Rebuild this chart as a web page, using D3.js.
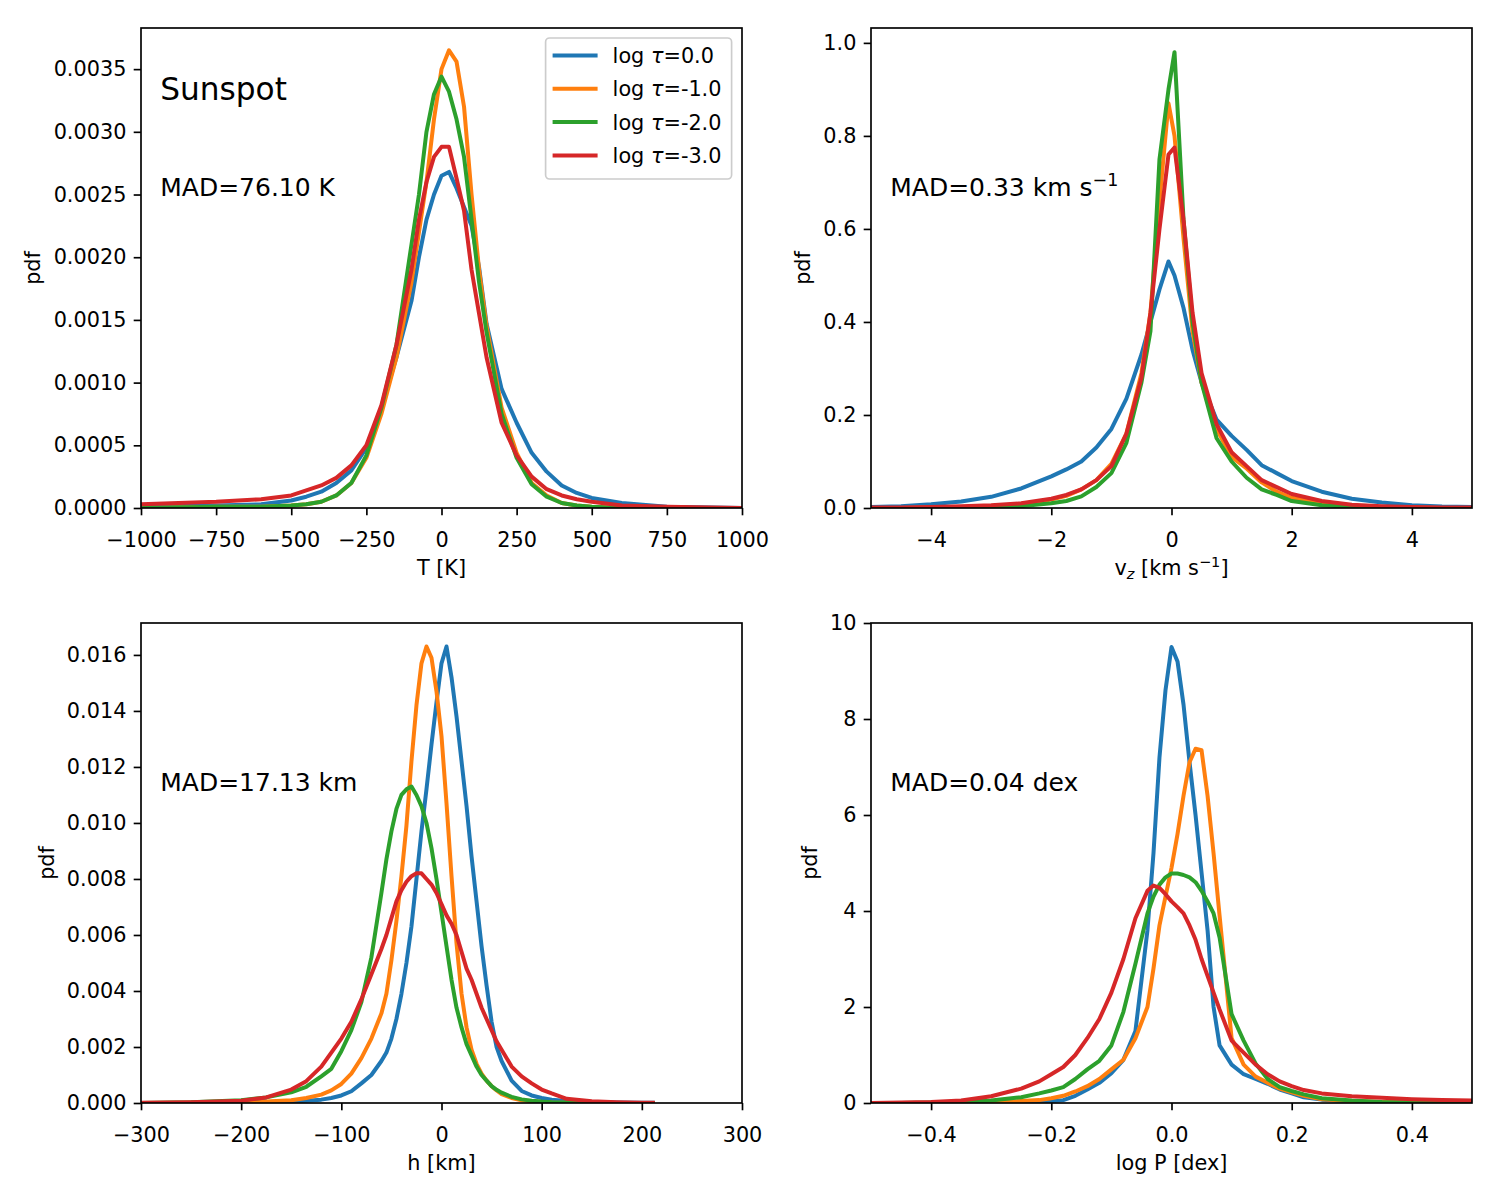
<!DOCTYPE html>
<html>
<head>
	<title>Sunspot pdf</title>
	<meta charset="utf-8"/>
	<script src="https://cdn.jsdelivr.net/npm/d3@7"></script>
	<style type="text/css">
		body { margin: 0; background: #fff; }
		svg { font-family: "DejaVu Sans", sans-serif; }
	</style>
</head>
<body>
	<svg id="fig" width="1500" height="1200"></svg>
	<script type="text/javascript">

	// series names (log tau levels)
	var tauLabels = ["0.0", "-1.0", "-2.0", "-3.0"];

	// temperature panel
	var tempBins = [-1000, -750, -600, -500, -450, -400, -350, -300, -250, -200, -150, -100, -75, -50, -25, 0, 25, 50, 75, 100, 125, 150, 200, 250, 300, 350, 400, 450, 500, 600, 750, 1000];
	var tempPdf0 = [0.00001, 0.00002, 0.00003, 0.00006, 0.00009, 0.00013, 0.0002, 0.0003, 0.00048, 0.0008, 0.0012, 0.00165, 0.002, 0.0023, 0.0025, 0.00265, 0.00268, 0.00255, 0.0024, 0.00225, 0.00192, 0.00147, 0.00095, 0.00068, 0.00044, 0.00029, 0.00018, 0.00012, 0.00008, 0.00004, 0.00001, 0];
	var tempPdf1 = [0, 0.00001, 0.00001, 0.00002, 0.00003, 0.00005, 0.0001, 0.0002, 0.0004, 0.00075, 0.0012, 0.0018, 0.0022, 0.0026, 0.0031, 0.0035, 0.00365, 0.00356, 0.0032, 0.0025, 0.0019, 0.00145, 0.0008, 0.00044, 0.0002, 0.0001, 0.00004, 0.00002, 0.00001, 0, 0, 0];
	var tempPdf2 = [0, 0.00001, 0.00001, 0.00002, 0.00003, 0.00005, 0.0001, 0.0002, 0.00042, 0.0008, 0.0013, 0.0021, 0.0025, 0.003, 0.0033, 0.00344, 0.00332, 0.0031, 0.0028, 0.0023, 0.0018, 0.0014, 0.00075, 0.0004, 0.00019, 0.00009, 0.00004, 0.00002, 0.00001, 0, 0, 0];
	var tempPdf3 = [0.00003, 0.00005, 0.00007, 0.0001, 0.00014, 0.00018, 0.00024, 0.00034, 0.0005, 0.00082, 0.0013, 0.0019, 0.0023, 0.0026, 0.0028, 0.00288, 0.00288, 0.00263, 0.00237, 0.0019, 0.00155, 0.0012, 0.00068, 0.00042, 0.00025, 0.00015, 0.0001, 0.00007, 0.00005, 0.00002, 0.00001, 0];
	var tempXTicks = [-1000, -750, -500, -250, 0, 250, 500, 750, 1000];
	var tempYTicks = [0, 0.0005, 0.001, 0.0015, 0.002, 0.0025, 0.003, 0.0035];

	// vertical velocity panel
	var vzBins = [-5, -4.5, -4, -3.5, -3, -2.5, -2, -1.75, -1.5, -1.25, -1, -0.75, -0.5, -0.35, -0.2, -0.05, 0.05, 0.2, 0.35, 0.5, 0.75, 1, 1.25, 1.5, 1.75, 2, 2.5, 3, 3.5, 4, 4.5, 5];
	var vzPdf0 = [0.002, 0.004, 0.008, 0.014, 0.024, 0.042, 0.068, 0.083, 0.1, 0.13, 0.17, 0.235, 0.33, 0.4, 0.47, 0.53, 0.5, 0.43, 0.34, 0.27, 0.19, 0.155, 0.125, 0.092, 0.075, 0.058, 0.035, 0.02, 0.012, 0.006, 0.003, 0.002];
	var vzPdf1 = [0, 0, 0.001, 0.002, 0.004, 0.008, 0.018, 0.026, 0.04, 0.06, 0.095, 0.16, 0.29, 0.42, 0.66, 0.87, 0.8, 0.58, 0.38, 0.27, 0.17, 0.11, 0.085, 0.055, 0.035, 0.022, 0.01, 0.004, 0.002, 0.001, 0, 0];
	var vzPdf2 = [0, 0, 0, 0.001, 0.002, 0.004, 0.01, 0.015, 0.025, 0.045, 0.075, 0.14, 0.27, 0.38, 0.75, 0.9, 0.98, 0.62, 0.4, 0.27, 0.15, 0.1, 0.065, 0.04, 0.028, 0.015, 0.006, 0.002, 0.001, 0, 0, 0];
	var vzPdf3 = [0.001, 0.001, 0.002, 0.004, 0.006, 0.01, 0.02, 0.028, 0.04, 0.06, 0.09, 0.16, 0.28, 0.42, 0.6, 0.76, 0.775, 0.62, 0.42, 0.29, 0.18, 0.12, 0.09, 0.06, 0.045, 0.03, 0.015, 0.007, 0.004, 0.002, 0.001, 0.001];
	var vzXTicks = [-4, -2, 0, 2, 4];
	var vzYTicks = [0, 0.2, 0.4, 0.6, 0.8, 1.0];

	// geometrical height panel
	var hBins = [-300, -250, -200, -175, -150, -135, -120, -110, -100, -90, -80, -70, -60, -55, -50, -45, -40, -35, -30, -25, -20, -15, -10, -5, 0, 5, 10, 15, 20, 25, 30, 35, 40, 45, 50, 55, 60, 70, 80, 90, 100, 110, 125, 150, 175, 200, 213];
	var hPdf0 = [0, 0, 0.00002, 0.00003, 0.00005, 0.00008, 0.00012, 0.00018, 0.00027, 0.00042, 0.0007, 0.001, 0.0015, 0.0018, 0.0023, 0.003, 0.0039, 0.005, 0.0063, 0.008, 0.0097, 0.0112, 0.0128, 0.0143, 0.0157, 0.0163, 0.0152, 0.0138, 0.0122, 0.0106, 0.0088, 0.0072, 0.0056, 0.0042, 0.0029, 0.002, 0.0015, 0.0008, 0.00043, 0.00027, 0.00018, 0.00012, 0.00007, 0.00004, 0.00002, 0.00001, 0.00001];
	var hPdf1 = [0, 0.00001, 0.00003, 0.00005, 0.0001, 0.00018, 0.0003, 0.00045, 0.00068, 0.00105, 0.0016, 0.0023, 0.0032, 0.0039, 0.0051, 0.0065, 0.0081, 0.0099, 0.0122, 0.0142, 0.0157, 0.0163, 0.0159, 0.0147, 0.0131, 0.0107, 0.0081, 0.0057, 0.0039, 0.0027, 0.0019, 0.0014, 0.00105, 0.0008, 0.0006, 0.00045, 0.00032, 0.00018, 0.0001, 0.00006, 0.00004, 0.00002, 0.00001, 0, 0, 0, 0];
	var hPdf2 = [0, 0.00003, 0.0001, 0.0002, 0.00038, 0.00058, 0.00095, 0.00122, 0.00185, 0.0026, 0.0036, 0.0052, 0.0075, 0.0087, 0.0097, 0.0105, 0.011, 0.0112, 0.0113, 0.011, 0.0106, 0.01, 0.0091, 0.008, 0.0068, 0.0056, 0.0044, 0.0034, 0.0027, 0.0021, 0.0017, 0.0013, 0.001, 0.0008, 0.0006, 0.00047, 0.00037, 0.00022, 0.00013, 0.00008, 0.00005, 0.00003, 0.00002, 0.00001, 0, 0, 0];
	var hPdf3 = [0.00001, 0.00003, 0.00008, 0.0002, 0.00048, 0.00078, 0.0013, 0.0018, 0.0023, 0.0029, 0.0037, 0.0046, 0.0055, 0.006, 0.0066, 0.0072, 0.0076, 0.0079, 0.0081, 0.0082, 0.0082, 0.008, 0.0078, 0.0075, 0.0071, 0.0067, 0.0064, 0.006, 0.0054, 0.0048, 0.0044, 0.0039, 0.0034, 0.003, 0.0026, 0.0022, 0.0019, 0.0013, 0.00095, 0.0007, 0.00048, 0.00034, 0.00015, 0.00006, 0.00003, 0.00001, 0.00001];
	var hXTicks = [-300, -200, -100, 0, 100, 200, 300];
	var hYTicks = [0, 0.002, 0.004, 0.006, 0.008, 0.01, 0.012, 0.014, 0.016];

	// gas pressure panel
	var pBins = [-0.5, -0.45, -0.4, -0.35, -0.3, -0.25, -0.22, -0.2, -0.18, -0.16, -0.14, -0.12, -0.1, -0.08, -0.06, -0.04, -0.03, -0.02, -0.01, 0, 0.01, 0.02, 0.03, 0.04, 0.05, 0.06, 0.07, 0.08, 0.1, 0.12, 0.14, 0.16, 0.18, 0.2, 0.22, 0.25, 0.3, 0.35, 0.4, 0.45, 0.5];
	var pPdf0 = [0, 0, 0, 0.01, 0.01, 0.02, 0.03, 0.04, 0.06, 0.15, 0.28, 0.42, 0.62, 0.9, 1.5, 3.6, 5.2, 7.2, 8.6, 9.5, 9.2, 8.3, 7.1, 6.0, 4.8, 3.6, 2.0, 1.2, 0.8, 0.6, 0.5, 0.4, 0.28, 0.2, 0.12, 0.07, 0.03, 0.01, 0.005, 0, 0];
	var pPdf1 = [0, 0, 0, 0.01, 0.02, 0.04, 0.06, 0.1, 0.15, 0.24, 0.35, 0.5, 0.7, 0.9, 1.35, 2.0, 2.8, 3.7, 4.3, 4.9, 5.6, 6.4, 7.1, 7.38, 7.35, 6.4, 5.2, 3.9, 1.35, 0.8, 0.55, 0.42, 0.3, 0.22, 0.15, 0.08, 0.04, 0.02, 0.01, 0, 0];
	var pPdf2 = [0, 0, 0.01, 0.02, 0.05, 0.12, 0.2, 0.26, 0.33, 0.5, 0.7, 0.88, 1.2, 1.9, 2.9, 3.95, 4.3, 4.55, 4.7, 4.78, 4.78, 4.75, 4.7, 4.6, 4.42, 4.2, 3.95, 3.45, 1.85, 1.3, 0.82, 0.5, 0.33, 0.25, 0.18, 0.1, 0.05, 0.02, 0.01, 0, 0];
	var pPdf3 = [0, 0.01, 0.02, 0.05, 0.14, 0.3, 0.45, 0.6, 0.75, 1.0, 1.35, 1.75, 2.3, 3.0, 3.85, 4.42, 4.53, 4.48, 4.35, 4.2, 4.08, 3.95, 3.7, 3.4, 3.0, 2.65, 2.3, 1.95, 1.3, 1.05, 0.8, 0.6, 0.45, 0.35, 0.27, 0.2, 0.14, 0.11, 0.08, 0.06, 0.05];
	var pXTicks = [-0.4, -0.2, 0, 0.2, 0.4];
	var pYTicks = [0, 2, 4, 6, 8, 10];

	var colors = ["#1f77b4", "#ff7f0e", "#2ca02c", "#d62728"];
	var W = 601, H = 480;
	var fs = 20.8;
	var svg = d3.select("#fig");

	function richText(sel, parts, size) {
		parts.forEach(function(p) {
			var t = sel.append("tspan").text(p.t);
			if (p.sub) {
				t.attr("font-size", size * 0.7).attr("font-style", "italic").attr("dy", size * 0.2);
			} else if (p.sup) {
				t.attr("font-size", size * 0.7).attr("dy", -size * 0.4);
			}
			if (p.back) t.attr("dy", p.back * size);
		});
	}

	function drawPanel(cfg, idx) {
		var g = svg.append("g").attr("transform", "translate(" + cfg.left + "," + cfg.top + ")");

		var x = d3.scaleLinear().domain(cfg.xDomain).range([0, W]);
		var y = d3.scaleLinear().domain(cfg.yDomain).range([H, 0]);

		g.append("clipPath").attr("id", "clip" + idx)
			.append("rect").attr("width", W).attr("height", H);

		var line = d3.line()
			.x(function(d) { return x(d[0]); })
			.y(function(d) { return y(d[1]); });

		cfg.series.forEach(function(s, i) {
			var pts = cfg.bins.map(function(b, j) { return [b, s[j]]; });
			g.append("path")
				.datum(pts)
				.attr("clip-path", "url(#clip" + idx + ")")
				.attr("d", line)
				.style("fill", "none")
				.style("stroke", colors[i])
				.style("stroke-width", 4)
				.style("stroke-linejoin", "round");
		});

		var xa = g.append("g").attr("transform", "translate(0," + H + ")")
			.call(d3.axisBottom(x).tickValues(cfg.xTicks).tickFormat(d3.format(cfg.xFormat)).tickSize(7.3).tickPadding(7.3));
		var ya = g.append("g")
			.call(d3.axisLeft(y).tickValues(cfg.yTicks).tickFormat(d3.format(cfg.yFormat)).tickSize(7.3).tickPadding(7.3));
		[xa, ya].forEach(function(a) {
			a.select(".domain").remove();
			a.selectAll("line").attr("stroke", "#000").attr("stroke-width", 1.67);
			a.selectAll("text").attr("font-size", fs).attr("font-family", "DejaVu Sans").attr("fill", "#000");
		});
		xa.selectAll("text").attr("y", 38.7).attr("dy", "0");

		g.append("rect").attr("width", W).attr("height", H)
			.style("fill", "none").style("stroke", "#000").style("stroke-width", 1.67);

		// x label
		var xl = g.append("text").attr("x", W / 2).attr("y", H + 67)
			.attr("text-anchor", "middle").attr("font-size", fs);
		richText(xl, cfg.xLabel, fs);

		// y label, placed left of the tick labels
		var bb = ya.node().getBBox();
		var lx = bb.x - 8.3 - 0.236 * fs;
		g.append("text").attr("transform", "translate(" + lx + "," + (H / 2) + ") rotate(-90)")
			.attr("text-anchor", "middle").attr("font-size", fs).text("pdf");

		// MAD annotation
		var mt = g.append("text").attr("x", 0.032 * W).attr("y", H * 0.35).attr("font-size", 25);
		richText(mt, cfg.mad, 25);

		return g;
	}

	var panels = [
		{left: 141, top: 28, xDomain: [-1000, 1000], yDomain: [0, 0.003828], bins: tempBins,
			series: [tempPdf0, tempPdf1, tempPdf2, tempPdf3], xTicks: tempXTicks, yTicks: tempYTicks,
			xFormat: "d", yFormat: ".4f", xLabel: [{t: "T [K]"}], mad: [{t: "MAD=76.10 K"}]},
		{left: 871, top: 28, xDomain: [-5, 5], yDomain: [0, 1.032], bins: vzBins,
			series: [vzPdf0, vzPdf1, vzPdf2, vzPdf3], xTicks: vzXTicks, yTicks: vzYTicks,
			xFormat: "d", yFormat: ".1f",
			xLabel: [{t: "v"}, {t: "z", sub: true}, {t: " [km s", back: -0.2}, {t: "\u22121", sup: true}, {t: "]", back: 0.4}],
			mad: [{t: "MAD=0.33 km s"}, {t: "\u22121", sup: true}]},
		{left: 141, top: 623, xDomain: [-300, 300], yDomain: [0, 0.01714], bins: hBins,
			series: [hPdf0, hPdf1, hPdf2, hPdf3], xTicks: hXTicks, yTicks: hYTicks,
			xFormat: "d", yFormat: ".3f", xLabel: [{t: "h [km]"}], mad: [{t: "MAD=17.13 km"}]},
		{left: 871, top: 623, xDomain: [-0.5, 0.5], yDomain: [0, 10], bins: pBins,
			series: [pPdf0, pPdf1, pPdf2, pPdf3], xTicks: pXTicks, yTicks: pYTicks,
			xFormat: ".1f", yFormat: "d", xLabel: [{t: "log P [dex]"}], mad: [{t: "MAD=0.04 dex"}]}
	];

	var groups = panels.map(function(p, i) { return drawPanel(p, i); });

	// title text and legend in the first panel
	var g0 = groups[0];
	g0.append("text").attr("x", 0.032 * W).attr("y", H * 0.15).attr("font-size", 31.2).text("Sunspot");

	var leg = g0.append("g").attr("transform", "translate(" + (W - 10.4 - 186) + ",10)");
	leg.append("rect").attr("width", 186).attr("height", 141).attr("rx", 4)
		.style("fill", "#fff").style("fill-opacity", 0.8)
		.style("stroke", "#cccccc").style("stroke-width", 1.67);
	tauLabels.forEach(function(lab, i) {
		var cy = 17.5 + i * 33.3;
		leg.append("line").attr("x1", 7).attr("x2", 52).attr("y1", cy).attr("y2", cy)
			.style("stroke", colors[i]).style("stroke-width", 4);
		var t = leg.append("text").attr("x", 67).attr("y", cy + 7.5).attr("font-size", fs);
		t.append("tspan").text("log ");
		t.append("tspan").attr("font-style", "italic").text("\u03c4");
		t.append("tspan").text("=" + lab);
	});

	</script>
</body>
</html>
